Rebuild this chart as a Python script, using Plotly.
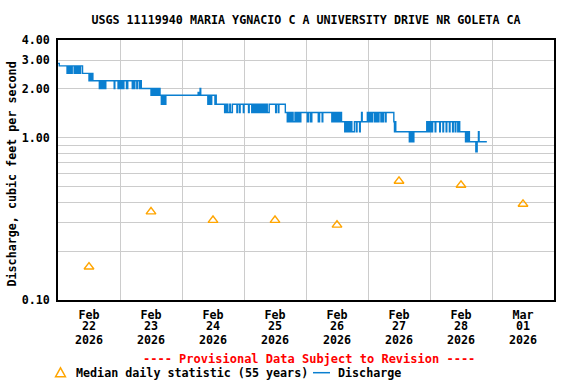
import plotly.graph_objects as go
import pandas as pd
import math

station_title = "USGS 11119940 MARIA YGNACIO C A UNIVERSITY DRIVE NR GOLETA CA"
y_title = "Discharge, cubic feet per second"
provisional = "---- Provisional Data Subject to Revision ----"
legend_median = "Median daily statistic (55 years)"
legend_q = "Discharge"

start = "2026-02-22 00:00"
end = "2026-03-02 00:00"

median_dates = ["2026-02-22 12:00", "2026-02-23 12:00", "2026-02-24 12:00", "2026-02-25 12:00",
                "2026-02-26 12:00", "2026-02-27 12:00", "2026-02-28 12:00", "2026-03-01 12:00"]
median_cfs = [0.16, 0.35, 0.31, 0.31, 0.29, 0.54, 0.51, 0.39]

# discharge change points: hours after Feb 22 00:00 and value (cfs), step shape
q_hours = [
    0, 0.5,
    3.5, 3.75, 4.25, 4.5, 4.75, 5.0, 5.25, 5.5,
    6.25, 6.5, 6.75, 7.25, 7.5, 8.0, 8.5, 8.75, 9.5,
    12.0, 12.25, 12.5, 12.75, 13.0, 13.25, 13.5,
    16.0, 16.25, 16.5, 17.0, 17.25, 17.75, 18.0, 18.5,
    21.75, 22.0, 23.25, 23.5, 23.75, 24.0, 24.25, 24.5, 24.75, 25.0, 25.25, 25.5,
    26.5, 27.0, 28.75, 29.0, 29.5, 29.75, 30.5, 30.75, 31.5, 31.75, 32.25,
    36.0, 36.25, 36.5, 37.0, 37.25, 37.75, 38.0, 38.5, 38.75, 39.25, 39.5,
    40.0, 40.25, 40.5, 41.0, 41.25, 41.75,
    54.25, 54.75, 55.0, 55.25,
    58.0, 58.25, 58.5, 59.0, 59.25, 59.5, 60.75, 61.0, 61.25,
    64.5, 64.75, 65.0, 65.5, 65.75, 66.5, 66.75, 67.5,
    69.25, 69.5, 70.25, 70.5, 71.75, 72.0, 73.75, 74.0,
    75.0, 75.25, 75.75, 76.0, 76.5, 77.0, 77.25, 77.75, 78.0, 78.5, 78.75, 79.25,
    79.5, 80.0, 80.25, 80.75, 81.0, 81.75,
    84.25, 84.5, 85.25, 85.5, 88.0,
    88.75, 89.0, 89.5, 90.0, 90.25, 90.75, 91.0, 91.75, 92.0, 92.5, 92.75, 93.25, 93.5, 94.0,
    96.5, 97.0, 97.75, 98.25, 100.75, 101.25, 102.25, 102.5,
    106.0, 106.25, 106.5, 107.0, 107.25, 107.75, 108.0, 108.5, 108.75, 109.25, 109.75,
    111.0, 111.25, 111.5, 112.0, 112.25, 112.75, 113.0, 113.5, 113.75, 114.75,
    115.5, 115.75, 116.75, 117.0, 117.5, 117.75,
    119.75, 120.0, 120.25, 120.75, 121.0, 121.5, 121.75, 122.5, 122.75, 123.25, 123.5,
    124.0, 124.25, 125.0, 125.25, 125.75, 126.0, 126.75, 127.0,
    130.0, 130.25, 130.5, 130.75,
    136.0, 136.25, 136.5, 137.0, 137.25, 137.75,
    142.75, 143.0, 143.5, 143.75, 144.25, 144.5, 145.0,
    146.0, 146.25, 147.75, 148.0, 149.0, 149.25, 150.25, 150.5, 151.5, 151.75,
    152.75, 153.0, 153.75, 154.0, 154.75, 155.0, 155.5,
    157.75, 158.0, 158.5, 158.75, 159.25,
    161.75, 162.25, 162.75, 163.0, 166.0,
]
q_cfs = [
    2.87, 2.77,
    2.49, 2.77, 2.49, 2.77, 2.49, 2.77, 2.49, 2.77,
    2.49, 2.77, 2.49, 2.77, 2.49, 2.77, 2.49, 2.77, 2.49,
    2.245, 2.49, 2.245, 2.49, 2.245, 2.49, 2.245,
    2.01, 2.245, 2.01, 2.245, 2.01, 2.245, 2.01, 2.245,
    2.01, 2.245, 2.01, 2.245, 2.01, 2.245, 2.01, 2.245, 2.01, 2.245, 2.01, 2.245,
    2.01, 2.245, 2.01, 2.245, 2.01, 2.245, 2.01, 2.245, 2.01, 2.245, 2.01,
    1.825, 2.01, 1.825, 2.01, 1.825, 2.01, 1.825, 2.01, 1.825, 2.01, 1.825,
    1.607, 1.825, 1.607, 1.825, 1.607, 1.825,
    1.9, 1.825, 2.01, 1.825,
    1.607, 1.825, 1.607, 1.825, 1.607, 1.825, 1.607, 1.825, 1.607,
    1.43, 1.607, 1.43, 1.607, 1.43, 1.607, 1.43, 1.607,
    1.43, 1.607, 1.43, 1.607, 1.43, 1.607, 1.43, 1.607,
    1.43, 1.607, 1.43, 1.607, 1.43, 1.607, 1.43, 1.607, 1.43, 1.607, 1.43, 1.607,
    1.43, 1.607, 1.43, 1.607, 1.43, 1.607,
    1.43, 1.607, 1.43, 1.607, 1.43,
    1.255, 1.43, 1.255, 1.43, 1.255, 1.43, 1.255, 1.43, 1.255, 1.43, 1.255, 1.43, 1.255, 1.43,
    1.255, 1.43, 1.255, 1.43, 1.255, 1.43, 1.255, 1.43,
    1.255, 1.43, 1.255, 1.43, 1.255, 1.43, 1.255, 1.43, 1.255, 1.43, 1.255,
    1.089, 1.255, 1.089, 1.255, 1.089, 1.255, 1.089, 1.255, 1.089, 1.255,
    1.089, 1.255, 1.089, 1.255, 1.43, 1.255,
    1.43, 1.255, 1.43, 1.255, 1.43, 1.255, 1.43, 1.255, 1.43, 1.255, 1.43,
    1.255, 1.43, 1.255, 1.43, 1.255, 1.43, 1.255, 1.43,
    1.255, 1.089, 1.255, 1.089,
    0.945, 1.089, 0.945, 1.089, 0.945, 1.089,
    1.255, 1.089, 1.255, 1.089, 1.255, 1.089, 1.255,
    1.089, 1.255, 1.089, 1.255, 1.089, 1.255, 1.089, 1.255, 1.089, 1.255,
    1.089, 1.255, 1.089, 1.255, 1.089, 1.255, 1.089,
    0.945, 1.089, 0.945, 1.089, 0.945,
    0.82, 0.945, 1.089, 0.945, 0.945,
]

y_tickvals = [0.1, 0.2, 0.3, 0.4, 0.5, 0.6, 0.7, 0.8, 0.9, 1, 2, 3, 4]
y_ticktext = ["0.10", "", "", "", "", "", "", "", "", "1.00", "2.00", "3.00", "4.00"]

FONT = "DejaVu Sans Mono"
FS = 11.7
BLUE = "#0a7fd0"
ORANGE = "#ffa500"
GRID = "#cccccc"

q_times = pd.Timestamp(start) + pd.to_timedelta(q_hours, unit="h")

fig = go.Figure()
fig.add_trace(go.Scatter(x=q_times, y=q_cfs, mode="lines", line=dict(color=BLUE, width=1.4, shape="hv"),
                         name=legend_q, showlegend=False))
fig.add_trace(go.Scatter(x=pd.to_datetime(median_dates), y=median_cfs, mode="markers",
                         marker=dict(symbol="triangle-up-open", size=8.5, color=ORANGE, line=dict(width=1.4, color=ORANGE)),
                         name=legend_median, showlegend=False))
# helper empty traces for the extra label rows
fig.add_trace(go.Scatter(x=[], y=[], xaxis="x2", yaxis="y", showlegend=False))
fig.add_trace(go.Scatter(x=[], y=[], xaxis="x3", yaxis="y", showlegend=False))

tfont = dict(family=FONT, size=FS, color="black", weight="bold")
common_x = dict(type="date", range=[start, end], tick0=start, dtick=86400000, ticklabelmode="period",
                ticks="", tickfont=tfont)

fig.update_layout(
    width=576, height=384,
    margin=dict(l=58, r=22, t=40, b=84),
    paper_bgcolor="white", plot_bgcolor="white",
    font=tfont,
    showlegend=False,
    title=dict(text=station_title, x=0.5, xref="paper", xanchor="center", y=1 - 20 / 384, yref="container",
               yanchor="middle", font=tfont),
    xaxis=dict(**common_x, tickformat="%b", showgrid=True, gridcolor=GRID, gridwidth=1,
               showline=True, linecolor="black", linewidth=1.5, mirror=True, zeroline=False,
               ticklabelstandoff=3),
    xaxis2=dict(**common_x, tickformat="%d", overlaying="x", anchor="y", side="bottom", showgrid=False,
                showline=False, zeroline=False, ticklabelstandoff=17),
    xaxis3=dict(**common_x, tickformat="%Y", overlaying="x", anchor="y", side="bottom", showgrid=False,
                showline=False, zeroline=False, ticklabelstandoff=31),
    yaxis=dict(type="log", range=[-1, math.log10(4)], tickvals=y_tickvals, ticktext=y_ticktext,
               showgrid=True, gridcolor=GRID, gridwidth=1, showline=True, linecolor="black", linewidth=1.5,
               mirror=True, zeroline=False, ticks="outside", ticklen=4, tickcolor="rgba(0,0,0,0)",
               tickfont=tfont),
)

fig.add_annotation(text=y_title, x=(12 - 58) / 496, y=(300 - 174.5) / 260, xref="paper", yref="paper",
                   textangle=-90, showarrow=False, xanchor="center", yanchor="middle", font=tfont)
fig.add_annotation(text=provisional, x=(308.5 - 58) / 496, y=(300 - 359) / 260, xref="paper", yref="paper",
                   showarrow=False, xanchor="center", yanchor="middle",
                   font=dict(family=FONT, size=12, color="red", weight="bold"))
fig.add_annotation(text=legend_median, x=(74 - 58) / 496, y=(300 - 372.7) / 260, xref="paper", yref="paper",
                   showarrow=False, xanchor="left", yanchor="middle", font=tfont)
fig.add_annotation(text=legend_q, x=(336 - 58) / 496, y=(300 - 372.7) / 260, xref="paper", yref="paper",
                   showarrow=False, xanchor="left", yanchor="middle", font=tfont)
ly = (300 - 372.7) / 260
fig.add_shape(type="line", xref="paper", yref="paper", x0=(313 - 58) / 496, x1=(330 - 58) / 496, y0=ly, y1=ly,
              line=dict(color=BLUE, width=1.5))
tx = [(55.5 - 58) / 496, (65.5 - 58) / 496, (60.5 - 58) / 496]
ty = [(300 - 376.8) / 260, (300 - 376.8) / 260, (300 - 367.8) / 260]
fig.add_shape(type="path", xref="paper", yref="paper",
              path=f"M {tx[0]},{ty[0]} L {tx[1]},{ty[1]} L {tx[2]},{ty[2]} Z",
              line=dict(color=ORANGE, width=1.4), fillcolor="rgba(0,0,0,0)")

fig.write_html("out.html", config={"displayModeBar": False},
               post_script="document.body.style.margin='0';document.body.style.padding='0';")
